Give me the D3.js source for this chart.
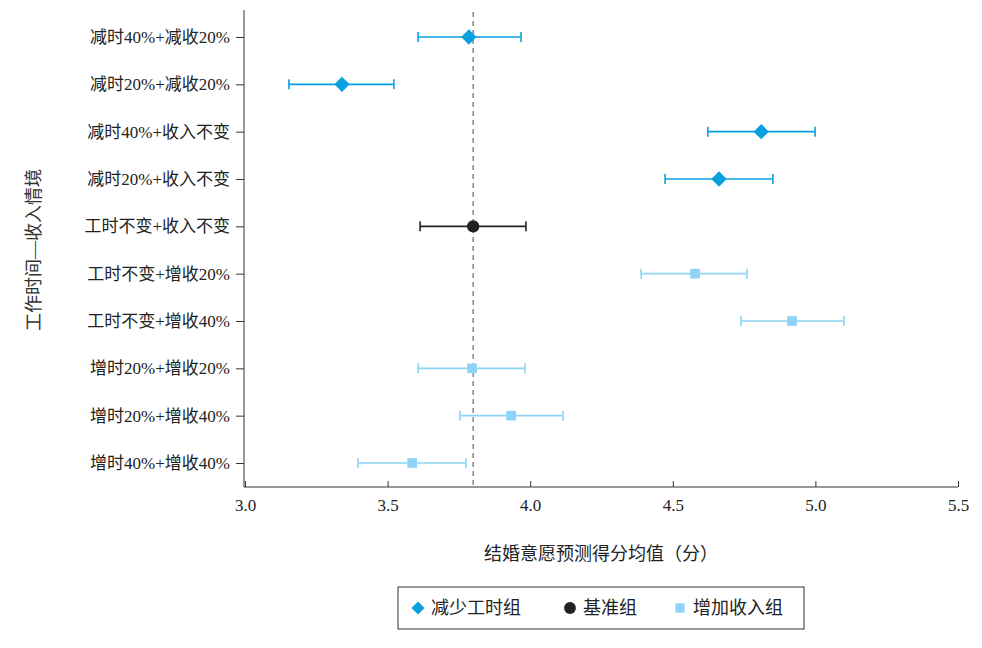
<!DOCTYPE html>
<html><head><meta charset="utf-8">
<script src="https://cdn.jsdelivr.net/npm/d3@7"></script>
<style>body{margin:0;background:#fff;font-family:"Liberation Serif","Noto Sans CJK SC",serif;}</style>
</head><body><svg id="c" width="982" height="648"></svg>
<script>
const categories = ['减时40%+减收20%','减时20%+减收20%','减时40%+收入不变','减时20%+收入不变','工时不变+收入不变','工时不变+增收20%','工时不变+增收40%','增时20%+增收20%','增时20%+增收40%','增时40%+增收40%'];
const groups = ['减少工时组','减少工时组','减少工时组','减少工时组','基准组','增加收入组','增加收入组','增加收入组','增加收入组','增加收入组'];
const means = [3.785,3.34,4.81,4.662,3.80,4.578,4.918,3.796,3.933,3.586];
const lows  = [3.607,3.154,4.623,4.473,3.614,4.389,4.739,3.607,3.754,3.396];
const highs = [3.968,3.522,4.999,4.851,3.985,4.76,5.10,3.982,4.115,3.775];
const xTicks = [3.0,3.5,4.0,4.5,5.0,5.5];
const legendNames = ['减少工时组','基准组','增加收入组'];
const colors = {'减少工时组':'#0aa0df','基准组':'#222222','增加收入组':'#8ed4f6'};
const shapes = {'减少工时组':d3.symbolDiamond2,'基准组':d3.symbolCircle,'增加收入组':d3.symbolSquare2};

const svg = d3.select('#c');
const x = d3.scaleLinear().domain([3,5.5]).range([245,958]);
const y = d3.scalePoint().domain(categories).range([37,463]);
const font = '"Liberation Serif","Noto Sans CJK SC",serif';

const gx = svg.append('g').attr('transform','translate(0,487)')
  .call(d3.axisBottom(x).tickValues(xTicks).tickFormat(d3.format('.1f')).tickSize(-6).tickPadding(12));
const gy = svg.append('g').attr('transform','translate(244,0)')
  .call(d3.axisLeft(y).tickSize(8).tickPadding(6));
[gx,gy].forEach(g=>{
  g.selectAll('path').attr('stroke','#333').attr('d', null);
  g.selectAll('line').attr('stroke','#333');
  g.selectAll('text').attr('font-family',font).attr('font-size',17).attr('fill','#222');
});
svg.append('line').attr('x1',244).attr('x2',958).attr('y1',487).attr('y2',487).attr('stroke','#333');
svg.append('line').attr('x1',244).attr('x2',244).attr('y1',10).attr('y2',487).attr('stroke','#333');

svg.append('line').attr('x1',x(3.8)).attr('x2',x(3.8)).attr('y1',12).attr('y2',487)
  .attr('stroke','#888').attr('stroke-width',1.5).attr('stroke-dasharray','5,4');

const rows = svg.append('g').selectAll('g').data(categories).join('g')
  .attr('transform',d=>`translate(0,${y(d)})`);
rows.append('line').attr('x1',(d,i)=>x(lows[i])).attr('x2',(d,i)=>x(highs[i]))
  .attr('stroke',(d,i)=>colors[groups[i]]).attr('stroke-width',1.6);
['l','h'].forEach(k=>rows.append('line')
  .attr('x1',(d,i)=>x(k==='l'?lows[i]:highs[i])).attr('x2',(d,i)=>x(k==='l'?lows[i]:highs[i]))
  .attr('y1',-5).attr('y2',5).attr('stroke',(d,i)=>colors[groups[i]]).attr('stroke-width',1.6));
rows.append('path').attr('d',(d,i)=>d3.symbol(shapes[groups[i]], groups[i]==='减少工时组'?150:120)())
  .attr('transform',(d,i)=>`translate(${x(means[i])},0)`).attr('fill',(d,i)=>colors[groups[i]]);

svg.append('text').attr('x',601).attr('y',560).attr('text-anchor','middle')
  .attr('font-family',font).attr('font-size',18).attr('fill','#222').text('结婚意愿预测得分均值（分）');
svg.append('text').attr('transform','translate(40,250) rotate(-90)').attr('text-anchor','middle')
  .attr('font-family',font).attr('font-size',18).attr('fill','#333').text('工作时间—收入情境');

const lg = svg.append('g');
lg.append('rect').attr('x',398).attr('y',587).attr('width',406).attr('height',42).attr('fill','none').attr('stroke','#333');
const lx = [418,570,680];
legendNames.forEach((n,i)=>{
  lg.append('path').attr('d',d3.symbol(shapes[n],110)()).attr('transform',`translate(${lx[i]},608)`).attr('fill',colors[n]);
  lg.append('text').attr('x',lx[i]+13).attr('y',614).attr('font-family',font).attr('font-size',18).attr('fill','#222').text(n);
});
</script></body></html>
